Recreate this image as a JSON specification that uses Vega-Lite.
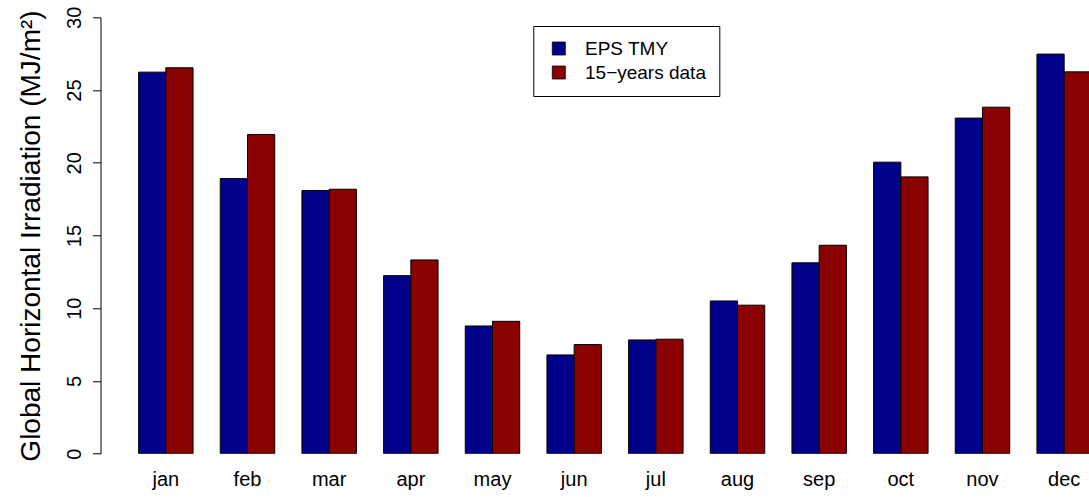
{
  "$schema": "https://vega.github.io/schema/vega-lite/v6.json",
  "autosize": {"type": "none"},
  "padding": {"left": 100.5, "top": 17.3, "right": 0, "bottom": 43.3},
  "width": 988.5,
  "height": 436.4,
  "background": "white",
  "config": {
    "view": {"stroke": null},
    "font": "Liberation Sans",
    "axis": {"grid": false}
  },
  "data": {
    "values": [
      {"month": "jan", "series": "EPS TMY", "value": 26.23},
      {"month": "jan", "series": "15−years data", "value": 26.53},
      {"month": "feb", "series": "EPS TMY", "value": 18.91},
      {"month": "feb", "series": "15−years data", "value": 21.94},
      {"month": "mar", "series": "EPS TMY", "value": 18.09},
      {"month": "mar", "series": "15−years data", "value": 18.18},
      {"month": "apr", "series": "EPS TMY", "value": 12.24},
      {"month": "apr", "series": "15−years data", "value": 13.32},
      {"month": "may", "series": "EPS TMY", "value": 8.78},
      {"month": "may", "series": "15−years data", "value": 9.10},
      {"month": "jun", "series": "EPS TMY", "value": 6.79},
      {"month": "jun", "series": "15−years data", "value": 7.50},
      {"month": "jul", "series": "EPS TMY", "value": 7.82},
      {"month": "jul", "series": "15−years data", "value": 7.87},
      {"month": "aug", "series": "EPS TMY", "value": 10.50},
      {"month": "aug", "series": "15−years data", "value": 10.21},
      {"month": "sep", "series": "EPS TMY", "value": 13.12},
      {"month": "sep", "series": "15−years data", "value": 14.33},
      {"month": "oct", "series": "EPS TMY", "value": 20.04},
      {"month": "oct", "series": "15−years data", "value": 19.03},
      {"month": "nov", "series": "EPS TMY", "value": 23.07},
      {"month": "nov", "series": "15−years data", "value": 23.82},
      {"month": "dec", "series": "EPS TMY", "value": 27.47},
      {"month": "dec", "series": "15−years data", "value": 26.25}
    ]
  },
  "mark": {"type": "bar", "stroke": "black", "strokeWidth": 1, "clip": true},
  "encoding": {
    "x": {
      "field": "month",
      "type": "nominal",
      "sort": ["jan", "feb", "mar", "apr", "may", "jun", "jul", "aug", "sep", "oct", "nov", "dec"],
      "scale": {"range": [0, 1029], "paddingInner": 0.3333, "paddingOuter": 0.4667},
      "axis": {
        "title": null,
        "domain": false,
        "ticks": false,
        "tickSize": 0,
        "labelAngle": 0,
        "labelFontSize": 20,
        "labelColor": "black",
        "labelPadding": 16
      }
    },
    "xOffset": {
      "field": "series",
      "sort": ["EPS TMY", "15−years data"],
      "scale": {"paddingInner": 0, "paddingOuter": 0}
    },
    "y": {
      "field": "value",
      "type": "quantitative",
      "scale": {"domain": [0, 30], "nice": false},
      "axis": {
        "values": [0, 5, 10, 15, 20, 25, 30],
        "title": "Global Horizontal Irradiation (MJ/m²)",
        "titleFontSize": 28,
        "titleFontWeight": "normal",
        "titleColor": "black",
        "titlePadding": 19,
        "labelAngle": -90,
        "labelFontSize": 20,
        "labelColor": "black",
        "labelPadding": 8,
        "tickSize": 8,
        "tickColor": "black",
        "domainColor": "black"
      }
    },
    "color": {
      "field": "series",
      "type": "nominal",
      "sort": ["EPS TMY", "15−years data"],
      "scale": {"domain": ["EPS TMY", "15−years data"], "range": ["#00008B", "#8B0000"]},
      "legend": {
        "title": null,
        "orient": "none",
        "legendX": 432.8,
        "legendY": 8.7,
        "strokeColor": "black",
        "fillColor": "white",
        "padding": 13,
        "symbolType": "square",
        "symbolSize": 169,
        "symbolStrokeColor": "black",
        "symbolStrokeWidth": 0.8,
        "symbolOffset": 3,
        "labelOffset": 16.7,
        "labelFontSize": 19,
        "labelColor": "black",
        "rowPadding": 4
      }
    }
  }
}
